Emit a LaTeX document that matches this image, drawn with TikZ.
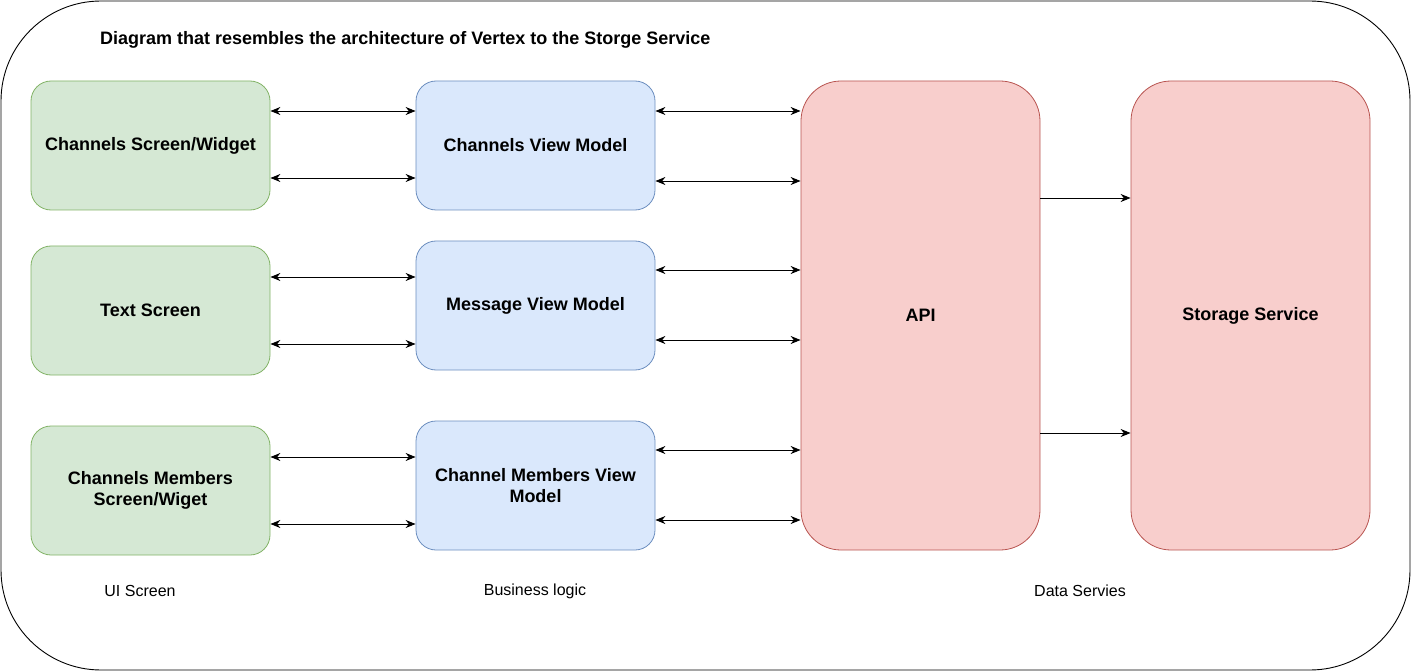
\documentclass[tikz,border=0pt]{standalone}
\usepackage{fontspec}
\setmainfont{Liberation Sans}
\usetikzlibrary{arrows.meta}
\definecolor{gfill}{HTML}{D5E8D4}\definecolor{gdraw}{HTML}{82B366}
\definecolor{bfill}{HTML}{DAE8FC}\definecolor{bdraw}{HTML}{6C8EBF}
\definecolor{rfill}{HTML}{F8CECC}\definecolor{rdraw}{HTML}{B85450}
\begin{document}
\begin{tikzpicture}[x=1pt,y=-1pt,
  box/.style={draw, rounded corners=20pt, minimum width=239pt, minimum height=129pt, align=center, font=\fontsize{18}{21}\selectfont\bfseries, inner sep=0pt, line width=0.8pt},
  ui/.style={box, fill=gfill, draw=gdraw},
  bl/.style={box, fill=bfill, draw=bdraw},
  ds/.style={box, fill=rfill, draw=rdraw, rounded corners=40pt, minimum height=469pt},
  lab/.style={font=\fontsize{16}{19}\selectfont},
  con/.style={line width=0.9pt, -{Stealth[length=10pt,width=8pt]}},
  bicon/.style={line width=0.9pt, {Stealth[length=10pt,width=8pt]}-{Stealth[length=10pt,width=8pt]}}]
\useasboundingbox (0,0) rectangle (1411,671);
\draw[line width=0.9pt, rounded corners=100pt] (1,1) rectangle (1410,670);
\node[font=\fontsize{18}{21}\selectfont\bfseries, anchor=west, inner sep=0pt] (title) at (100,40) {Diagram that resembles the architecture of Vertex to the Storge Service};
\node[ui] (u1) at (150.5,145.5) {Channels Screen/Widget};
\node[ui] (u2) at (150.5,310.5) {Text Screen};
\node[ui] (u3) at (150.5,490.5) {Channels Members\\Screen/Wiget};
\node[bl] (b1) at (535.5,145.5) {Channels View Model};
\node[bl] (b2) at (535.5,305.5) {Message View Model};
\node[bl] (b3) at (535.5,485.5) {Channel Members View\\Model};
\node[ds] (api) at (920.5,315.5) {API};
\node[ds] (st) at (1250.5,315.5) {Storage Service};
\node[lab] (l1) at (140,591) {UI Screen};
\node[lab] (l2) at (535,591) {Business logic};
\node[lab] (l3) at (1080,591) {Data Servies};
% UI <-> BL
\draw[bicon] (u1.east |- 0,111) -- (b1.west |- 0,111);
\draw[bicon] (u1.east |- 0,178) -- (b1.west |- 0,178);
\draw[bicon] (u2.east |- 0,277) -- (b2.west |- 0,277);
\draw[bicon] (u2.east |- 0,344) -- (b2.west |- 0,344);
\draw[bicon] (u3.east |- 0,457) -- (b3.west |- 0,457);
\draw[bicon] (u3.east |- 0,524) -- (b3.west |- 0,524);
% BL <-> API
\draw[bicon] (b1.east |- 0,111) -- (api.west |- 0,111);
\draw[bicon] (b1.east |- 0,181) -- (api.west |- 0,181);
\draw[bicon] (b2.east |- 0,270) -- (api.west |- 0,270);
\draw[bicon] (b2.east |- 0,340) -- (api.west |- 0,340);
\draw[bicon] (b3.east |- 0,450) -- (api.west |- 0,450);
\draw[bicon] (b3.east |- 0,520) -- (api.west |- 0,520);
% API -> Storage
\draw[con] (api.east |- 0,198) -- (st.west |- 0,198);
\draw[con] (api.east |- 0,433) -- (st.west |- 0,433);
\end{tikzpicture}
\end{document}
